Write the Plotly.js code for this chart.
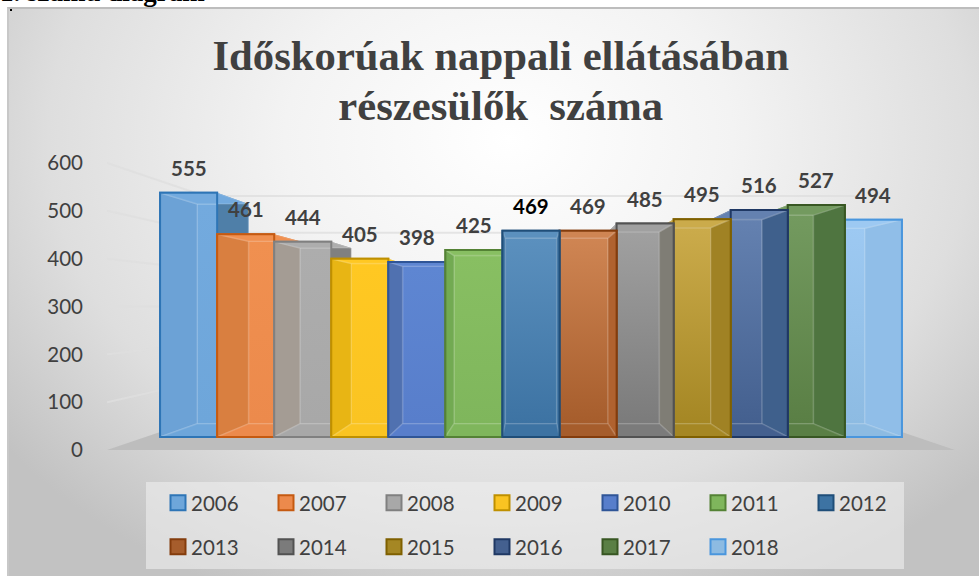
<!DOCTYPE html>
<html>
<head>
<meta charset="utf-8">
<script src="https://cdn.plot.ly/plotly-3.0.1.min.js"></script>
<style>
html,body{margin:0;padding:0;background:#fff;overflow:hidden}
#frame{position:absolute;left:7px;top:7px;width:972px;height:569px;border-top:2px solid #bdbdbd;border-left:2px solid #c8c8c8;box-sizing:border-box;
background:radial-gradient(ellipse 640px 500px at 500px 130px,#ffffff 0%,#f3f3f3 35%,#dedede 72%,#c2c2c2 100%);}
#chart{position:absolute;left:0;top:0;width:979px;height:576px}
</style>
</head>
<body>
<div id="frame"></div>
<div id="chart"></div>
<script>
const years = ['2006','2007','2008','2009','2010','2011','2012','2013','2014','2015','2016','2017','2018'];
const values = [555,461,444,405,398,425,469,469,485,495,516,527,494];
const axisTicks = [0,100,200,300,400,500,600];
const titleLines = ['Időskorúak nappali ellátásában','részesülők \u00a0száma'];
const borderColors = ['#2e75b6','#c55a11','#808080','#bf9000','#2f5597','#548235','#1f4e79','#843c0c','#525252','#7f6000','#1f3864','#385723','#4a96dd'];
const topColors = ['#73aade','#f09050','#adadad','#ffc822','#5e86d2','#88bf62','#5b90be','#cf8553','#a0a0a0','#cbab4b','#6481b0','#739a5f','#9dc9f2'];
const bottomColors = ['#6ea6da','#ec8a4c','#a8a8a8','#fac422','#587ecb','#7fb65c','#3d73a3','#a65d2c','#7b7b7b','#a58724','#44608f','#5a7f45','#8dbbe2'];
const innerSide = ['#6ca2d6','#d97f40','#a49c94','#e8b514','#5071b0','#72aa52','#3d73a3','#b0622f','#7f7d75','#a08224','#3f608c','#4f7540','#90bee8'];
const outerSide = ['#4f7fa8','#c0651f','#808080','#c8a010','#3d62a5','#5f9a40','#2f6090','#7a3c14','#5a5a5a','#8f7010','#1f3864','#3f6b2f','#7fb0e0'];
const paintOrder = [0,2,4,6,8,10,12,11,9,7,5,3,1];

const depth = 0.1, vanishX = 6, vanishValue = 300, half = 0.5;
const back = (x,v)=>[x+depth*(vanishX-x), v+depth*(vanishValue-v)];
function face(pts,color,extra){
  return Object.assign({type:'scatter',mode:'lines',x:pts.map(p=>p[0]),y:pts.map(p=>p[1]),yaxis:'y2',fill:'toself',fillcolor:color,
    line:{width:1.5,color:'rgba(255,255,255,0.14)'},showlegend:false,hoverinfo:'skip'},extra);
}
const traces=[];
years.forEach((yr,i)=>{
  const v=values[i], l=i-half, r=i+half, z=paintOrder[i]*2+1;
  const fl=[l,0], fr=[r,0], tl=[l,v], tr=[r,v];
  const bl=back(l,0), br=back(r,0), btl=back(l,v), btr=back(r,v);
  const leftWall = i<=6 ? innerSide[i] : outerSide[i];
  const rightWall = i>=6 ? innerSide[i] : outerSide[i];
  traces.push({type:'bar',name:yr,x:[i],y:[v],yaxis:'y2',width:1,zorder:z,
    marker:{color:bottomColors[i],line:{color:borderColors[i],width:2}},
    legend:i<7?'legend':'legend2',hoverinfo:'x+y'});
  traces.push(face([bl,br,btr,btl,bl],topColors[i],{zorder:z+1,fillgradient:{type:'vertical',colorscale:[[0,bottomColors[i]],[1,topColors[i]]]}}));
  traces.push(face([fl,bl,btl,tl,fl],leftWall,{zorder:z+1}));
  traces.push(face([fr,br,btr,tr,fr],rightWall,{zorder:z+1}));
  traces.push(face([fl,fr,br,bl,fl],bottomColors[i],{zorder:z+1}));
  traces.push(face([tl,tr,btr,btl,tl],topColors[i],{zorder:z+1}));
  traces.push({type:'scatter',mode:'lines',x:[l,r,r,l,l],y:[0,0,v,v,0],yaxis:'y2',line:{color:borderColors[i],width:2},showlegend:false,hoverinfo:'skip',zorder:z+1});
});
/* floor and wall gridlines live on the labelled axis */
const wall=0.23, wallPt=(x,v)=>[x+wall*(vanishX-x), v+wall*(vanishValue-v)];
const xL=-1.43, xR=13.43;
const floorPts=[[xL,0],[xR,0],wallPt(xR,0),wallPt(xL,0),[xL,0]];
traces.unshift({type:'scatter',mode:'lines',x:floorPts.map(p=>p[0]),y:floorPts.map(p=>p[1]),fill:'toself',fillcolor:'#bdbdbd',line:{width:0},showlegend:false,hoverinfo:'skip',zorder:0});
axisTicks.slice(1).forEach(t=>{
  const a=wallPt(xL,t), b=wallPt(xR,t);
  traces.unshift({type:'scatter',mode:'lines',x:[xL,a[0],b[0]],y:[t,a[1],b[1]],line:{color:'rgba(222,222,222,0.8)',width:2},showlegend:false,hoverinfo:'skip',zorder:0});
});

const toPaperX=px=>(px-107)/848, toPaperY=py=>(450-py)/320;
const annos=values.map((v,i)=>({x:i,y:v,yref:'y2',xref:'x',text:String(v),showarrow:false,yanchor:'middle',xanchor:'center',yshift:25,
  font:{family:'Lato, sans-serif',size:20.5,color:i===6?'#000000':'#404040',weight:'bold'}}));
annos.push({xref:'paper',yref:'paper',x:toPaperX(0),y:toPaperY(7),xanchor:'left',yanchor:'bottom',showarrow:false,align:'left',text:'<b>1. számú diagram</b>',
  font:{family:'Liberation Serif, serif',size:27,color:'#000'},borderpad:0,borderwidth:0});

const legendBase={orientation:'h',entrywidth:72,entrywidthmode:'pixels',xanchor:'left',yanchor:'middle',bgcolor:'rgba(0,0,0,0)',borderwidth:0,
  font:{family:'Lato, sans-serif',size:20.5,color:'#404040'},itemclick:false,itemdoubleclick:false,indentation:-9,traceorder:'normal'};

const layout={
  width:979,height:576,margin:{l:107,r:24,t:130,b:126,pad:0,autoexpand:false},
  paper_bgcolor:'rgba(0,0,0,0)',plot_bgcolor:'rgba(0,0,0,0)',
  barmode:'overlay',showlegend:true,
  title:{text:titleLines.map(t=>'<span style="font-size:42.7px">'+t+'</span>').join('<br>'),font:{family:'Liberation Serif, serif',size:38.5,color:'#404040',weight:'bold'},x:0.5115,xanchor:'center',y:0.879,yref:'container',yanchor:'middle',automargin:false},
  xaxis:{range:[xL,xR],visible:false,fixedrange:true},
  yaxis:{range:[0,669],tickmode:'array',tickvals:axisTicks,ticktext:axisTicks.map(String),showgrid:false,zeroline:false,showline:false,
    ticks:'',ticklabelstandoff:23,tickfont:{family:'Lato, sans-serif',size:20.5,color:'#404040'},fixedrange:true},
  yaxis2:{range:[-29.5,697.7],overlaying:'y',visible:false,fixedrange:true},
  legend:Object.assign({},legendBase,{x:toPaperX(160),y:toPaperY(503)}),
  legend2:Object.assign({},legendBase,{x:toPaperX(160),y:toPaperY(547)}),
  shapes:[
    {type:'rect',xref:'paper',yref:'paper',x0:toPaperX(146),x1:toPaperX(904),y0:toPaperY(482),y1:toPaperY(569),fillcolor:'rgba(238,238,238,0.62)',line:{width:0},layer:'below'},
    {type:'rect',xref:'paper',yref:'paper',x0:toPaperX(10),x1:toPaperX(12),y0:toPaperY(9),y1:toPaperY(11),fillcolor:'#000',line:{width:0},layer:'above'}
  ],
  annotations:annos
};
function tuneSwatches(){
  /* legend swatches: larger, closer to their labels */
  document.querySelectorAll('#chart .legendpoints path').forEach(p=>{
    if(!p.dataset.baseX){
      const m=/translate\(([-\d.]+)/.exec(p.getAttribute('transform')||'');
      p.dataset.baseX=m?m[1]:'0';
    }
    p.setAttribute('d','M7.5,7.5H-7.5V-7.5H7.5Z');
    p.setAttribute('transform','translate('+(parseFloat(p.dataset.baseX)+7)+',0)');
  });
}
Plotly.newPlot('chart',traces,layout,{displayModeBar:false,responsive:false}).then(()=>{
  tuneSwatches();
  requestAnimationFrame(tuneSwatches);
  setTimeout(tuneSwatches,60);
});
</script>
</body>
</html>
